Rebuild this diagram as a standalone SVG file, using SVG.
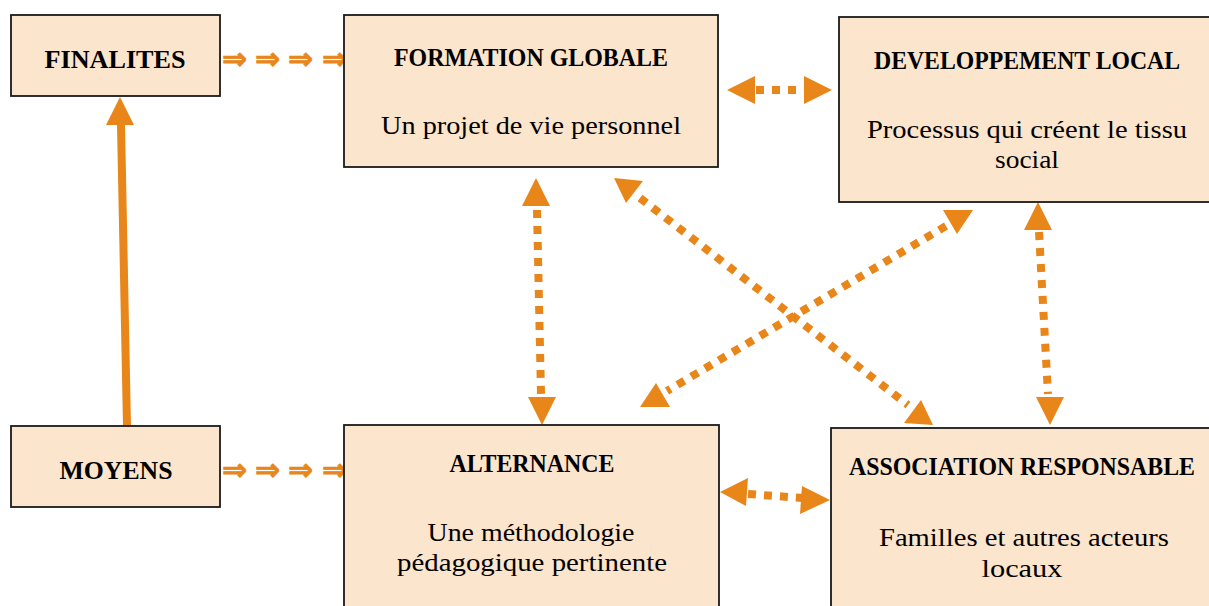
<svg xmlns="http://www.w3.org/2000/svg" width="1209" height="606" viewBox="0 0 1209 606">
<style>
.box{fill:#FBE5CC;stroke:#1a1a1a;stroke-width:1.8}
.h{font-family:"Liberation Serif","DejaVu Serif",serif;font-weight:bold;font-size:26px;fill:#000;text-anchor:middle}
.t{font-family:"Liberation Serif","DejaVu Serif",serif;font-size:25px;fill:#000;text-anchor:middle}
.dash{fill:none;stroke:#E8861A;stroke-width:8;stroke-dasharray:8 8}
.ar{fill:#E8861A}
.dbl{font-family:"DejaVu Sans",sans-serif;font-size:30px;fill:#E8861A;stroke:#E8861A;stroke-width:0.8;font-weight:bold}
</style>
<rect width="1209" height="606" fill="#fff"/>
<g id="connectors">
<text class="dbl" y="69"><tspan x="222">⇒</tspan><tspan x="255">⇒</tspan><tspan x="288">⇒</tspan><tspan x="322">⇒</tspan></text>
<text class="dbl" y="480"><tspan x="222">⇒</tspan><tspan x="255">⇒</tspan><tspan x="288">⇒</tspan><tspan x="322">⇒</tspan></text>
<line x1="127" y1="426" x2="121" y2="125" stroke="#E8861A" stroke-width="8"/>
<polygon class="ar" points="120,97 106,125 134,125"/>
<line class="dash" x1="756" y1="90" x2="806" y2="90"/>
<polygon class="ar" points="727,90 755,76 755,104"/>
<polygon class="ar" points="832,90 804,76 804,104"/>
<line class="dash" x1="537" y1="210" x2="541" y2="394"/>
<polygon class="ar" points="536,178 522,206 550,206"/>
<polygon class="ar" points="542,425 528,397 556,397"/>
<line class="dash" x1="640" y1="198" x2="908" y2="405"/>
<polygon class="ar" points="614,178 643,181 626,203"/>
<polygon class="ar" points="933,425 904,423 921,400"/>
<line class="dash" x1="946" y1="226" x2="667" y2="391"/>
<polygon class="ar" points="973,210 957,234 943,210"/>
<polygon class="ar" points="640,407 656,383 670,407"/>
<line class="dash" x1="1039" y1="232" x2="1048" y2="394"/>
<polygon class="ar" points="1038,202 1024,230 1052,230"/>
<polygon class="ar" points="1050,425 1036,397 1064,397"/>
<line class="dash" x1="748" y1="494" x2="803" y2="498"/>
<polygon class="ar" points="720,492 748,478 746,506"/>
<polygon class="ar" points="830,500 802,486 800,514"/>
</g>
<g id="finalites"><rect class="box" x="11" y="15" width="209" height="81"/><text class="h" x="115" y="68" textLength="141" lengthAdjust="spacingAndGlyphs">FINALITES</text></g>
<g id="formation"><rect class="box" x="344" y="15" width="374" height="152"/><text class="h" x="531" y="66" textLength="274" lengthAdjust="spacingAndGlyphs">FORMATION GLOBALE</text><text class="t" x="531" y="134" textLength="300" lengthAdjust="spacingAndGlyphs">Un projet de vie personnel</text></g>
<g id="developpement"><rect class="box" x="839" y="17" width="375" height="185"/><text class="h" x="1027" y="69" textLength="306" lengthAdjust="spacingAndGlyphs">DEVELOPPEMENT LOCAL</text><text class="t" x="1027" y="138" textLength="320" lengthAdjust="spacingAndGlyphs">Processus qui créent le tissu</text><text class="t" x="1027" y="168" textLength="64" lengthAdjust="spacingAndGlyphs">social</text></g>
<g id="moyens"><rect class="box" x="11" y="426" width="209" height="81"/><text class="h" x="116" y="479" textLength="113" lengthAdjust="spacingAndGlyphs">MOYENS</text></g>
<g id="alternance"><rect class="box" x="344" y="425" width="375" height="186"/><text class="h" x="532" y="472" textLength="165" lengthAdjust="spacingAndGlyphs">ALTERNANCE</text><text class="t" x="531" y="541" textLength="207" lengthAdjust="spacingAndGlyphs">Une méthodologie</text><text class="t" x="532" y="571" textLength="270" lengthAdjust="spacingAndGlyphs">pédagogique pertinente</text></g>
<g id="association"><rect class="box" x="831" y="428" width="383" height="183"/><text class="h" x="1022" y="475" textLength="346" lengthAdjust="spacingAndGlyphs">ASSOCIATION RESPONSABLE</text><text class="t" x="1024" y="546" textLength="290" lengthAdjust="spacingAndGlyphs">Familles et autres acteurs</text><text class="t" x="1022" y="577" textLength="81" lengthAdjust="spacingAndGlyphs">locaux</text></g>
</svg>
